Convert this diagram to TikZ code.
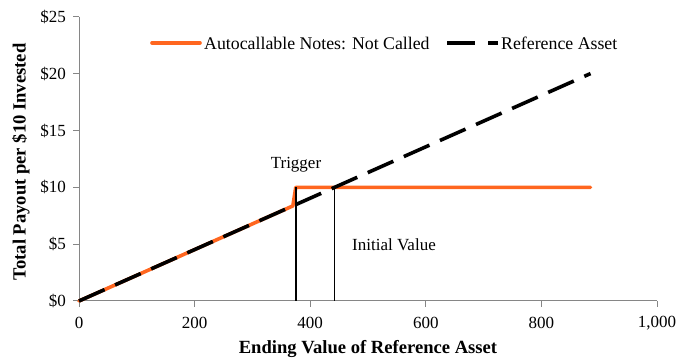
\documentclass[tikz,border=0pt]{standalone}
\usepackage{fontspec}
\setmainfont{Liberation Serif}
\definecolor{noteorange}{RGB}{255,102,31}
\definecolor{axisgray}{RGB}{134,134,134}
\begin{document}
\begin{tikzpicture}[x=1pt,y=1pt,
  lbl/.style={inner sep=0pt,font=\fontsize{17}{20}\selectfont},
  leg/.style={inner sep=0pt,font=\fontsize{17.8}{20}\selectfont},
  ttl/.style={inner sep=0pt,font=\fontsize{18.6}{21}\selectfont\bfseries},
  axisline/.style={draw=axisgray,line width=1pt},
  noteline/.style={draw=noteorange,line width=3.6pt,line cap=round,line join=round},
  refline/.style={draw=black,line width=3.6pt,dash pattern=on 28pt off 11.5pt},
  markline/.style={draw=black,line width=1.6pt}]
\useasboundingbox (0,0) rectangle (680,358);
\begin{scope}[shift={(79pt,57pt)},x=0.578pt,y=11.36pt]
  % axes
  \coordinate (o) at (0,0);
  \coordinate (xend) at (1000,0);
  \coordinate (ytop) at (0,25);
  \draw[axisline] (ytop) -- (o) -- (xend);
  \foreach \v/\t in {0/\$0,5/\$5,10/\$10,15/\$15,20/\$20,25/\$25}{
    \draw[axisline] (0,\v) -- ++(-6pt,0);
    \node[lbl,anchor=east] (yl\v) at ([xshift=-13pt]0,\v) {\t};
  }
  \foreach \v/\t in {0/0,200/200,400/400,600/600,800/800,1000/{1,000}}{
    \draw[axisline] (\v,0) -- ++(0,-6pt);
    \node[lbl] (xl\v) at ([yshift=-22pt]\v,0) {\t};
  }
  % data
  \coordinate (kink) at (370,8.371);
  \coordinate (jump) at (375,10);
  \coordinate (nend) at (885,10);
  \coordinate (rend) at (885,20.02);
  \draw[noteline] (o) -- (kink) -- (jump) -- (nend);
  \draw[refline] (o) -- (rend);
  \coordinate (tb) at (375,0);
  \coordinate (tt) at (375,10);
  \coordinate (ib) at (442,0);
  \coordinate (it) at (442,10);
  \draw[markline] (tb) -- (tt);
  \draw[markline] (ib) -- (it);
\end{scope}
% labels
\node[lbl] (trig) at (296,193) {Trigger};
\node[lbl] (init) at (394,113) {Initial Value};
% legend
\coordinate (la) at (152,315);
\coordinate (lb) at (200,315);
\draw[noteline] (la) -- (lb);
\node[leg,anchor=west] (lega) at (204,315) {Autocallable Notes: Not Called};
\coordinate (lc) at (447,315);
\coordinate (ld) at (498,315);
\draw[refline,dash pattern=on 28pt off 13pt] (lc) -- (ld);
\node[leg,anchor=west] (legb) at (501,315) {Reference Asset};
% axis titles
\node[ttl] (xt) at (368,9) {Ending Value of Reference Asset};
\node[ttl,rotate=90] (yt) at (21,196) {Total Payout per \$10 Invested};
\end{tikzpicture}
\end{document}
